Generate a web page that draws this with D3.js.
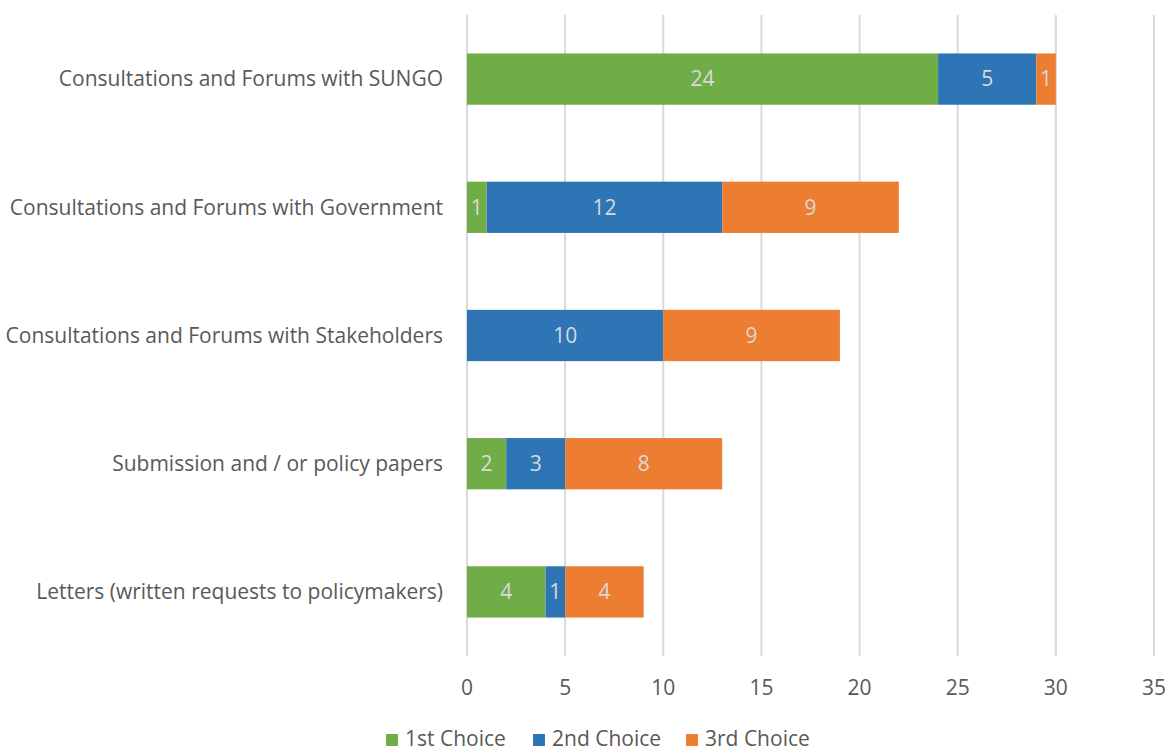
<!DOCTYPE html>
<html>
<head>
<meta charset="utf-8">
<script src="https://cdn.jsdelivr.net/npm/d3@7"></script>
<style>
  body { margin: 0; background: #fff; }
  svg { display: block; font-family: "Open Sans", Lato, sans-serif; }
</style>
</head>
<body>
<svg id="chart" width="1169" height="749"></svg>
<script>
const categories = [
  "Consultations and Forums with SUNGO",
  "Consultations and Forums with Government",
  "Consultations and Forums with Stakeholders",
  "Submission and / or policy papers",
  "Letters (written requests to policymakers)"
];
const seriesNames = ["1st Choice", "2nd Choice", "3rd Choice"];
const firstChoice  = [24, 1, 0, 2, 4];
const secondChoice = [5, 12, 10, 3, 1];
const thirdChoice  = [1, 9, 9, 8, 4];
const xTicks = [0, 5, 10, 15, 20, 25, 30, 35];
const colors = ["#70ad47", "#2e75b6", "#ed7d31"];

const rows = categories.map((c, i) => ({
  category: c,
  "1st Choice": firstChoice[i],
  "2nd Choice": secondChoice[i],
  "3rd Choice": thirdChoice[i]
}));

const svg = d3.select("#chart");
const plotLeft = 467, plotRight = 1154, plotTop = 15, plotBottom = 656;
const fontSize = 21;

const x = d3.scaleLinear().domain([0, 35]).range([plotLeft, plotRight]);
const y = d3.scaleBand().domain(categories).range([plotTop, plotBottom]).paddingInner(0.6).paddingOuter(0.3);

// vertical gridlines
svg.append("g").selectAll("line").data(xTicks).join("line")
  .attr("x1", d => x(d)).attr("x2", d => x(d))
  .attr("y1", plotTop).attr("y2", plotBottom)
  .attr("stroke", "#d9d9d9").attr("stroke-width", 2);

const stack = d3.stack().keys(seriesNames)(rows);

const groups = svg.append("g").selectAll("g").data(stack).join("g")
  .attr("fill", (d, i) => colors[i]);

groups.selectAll("rect").data(d => d).join("rect")
  .attr("x", d => x(d[0]))
  .attr("width", d => x(d[1]) - x(d[0]))
  .attr("y", d => y(d.data.category))
  .attr("height", y.bandwidth());

// value labels inside segments
groups.selectAll("text").data(d => d.filter(s => s[1] - s[0] > 0)).join("text")
  .attr("x", d => (x(d[0]) + x(d[1])) / 2)
  .attr("y", d => y(d.data.category) + y.bandwidth() / 2)
  .attr("dy", "0.35em")
  .attr("text-anchor", "middle")
  .attr("fill", "#d9d9d9")
  .attr("font-size", fontSize)
  .text(d => d[1] - d[0]);

// category labels
svg.append("g").selectAll("text").data(categories).join("text")
  .attr("x", 443)
  .attr("y", d => y(d) + y.bandwidth() / 2)
  .attr("dy", "0.35em")
  .attr("text-anchor", "end")
  .attr("fill", "#595959")
  .attr("font-size", fontSize)
  .text(d => d);

// x tick labels
svg.append("g").selectAll("text").data(xTicks).join("text")
  .attr("x", d => x(d))
  .attr("y", 688)
  .attr("dy", "0.35em")
  .attr("text-anchor", "middle")
  .attr("fill", "#595959")
  .attr("font-size", fontSize)
  .text(d => d);

// legend
const legendX = [386, 533, 686];
const legend = svg.append("g").selectAll("g").data(seriesNames).join("g")
  .attr("transform", (d, i) => `translate(${legendX[i]},739)`);
legend.append("rect")
  .attr("x", 0).attr("y", -5).attr("width", 12).attr("height", 12)
  .attr("fill", (d, i) => colors[i]);
legend.append("text")
  .attr("x", 19).attr("dy", "0.35em")
  .attr("fill", "#595959").attr("font-size", fontSize)
  .text(d => d);
</script>
</body>
</html>
